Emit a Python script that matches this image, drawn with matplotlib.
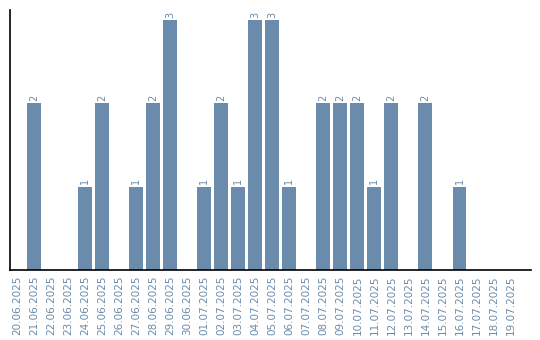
import matplotlib
matplotlib.use("Agg")
import matplotlib.pyplot as plt

dates = ["20.06.2025", "21.06.2025", "22.06.2025", "23.06.2025", "24.06.2025",
         "25.06.2025", "26.06.2025", "27.06.2025", "28.06.2025", "29.06.2025",
         "30.06.2025", "01.07.2025", "02.07.2025", "03.07.2025", "04.07.2025",
         "05.07.2025", "06.07.2025", "07.07.2025", "08.07.2025", "09.07.2025",
         "10.07.2025", "11.07.2025", "12.07.2025", "13.07.2025", "14.07.2025",
         "15.07.2025", "16.07.2025", "17.07.2025", "18.07.2025", "19.07.2025"]
counts = [0, 2, 0, 0, 1, 2, 0, 1, 2, 3,
          0, 1, 2, 1, 3, 3, 1, 0, 2, 2,
          2, 1, 2, 0, 2, 0, 1, 0, 0, 0]

bar_color = "#6a8bab"
text_color = "#6a8bab"

fig = plt.figure(figsize=(5.4, 3.4), dpi=100)
ax = fig.add_axes([10/540, 70/340, 521/540, 260/340])
x = list(range(len(dates)))
bars = ax.bar(x, counts, width=0.82, color=bar_color)
for xi, v in zip(x, counts):
    if v > 0:
        ax.text(xi, v + 0.03, str(v), rotation=90, ha="center", va="bottom",
                fontsize=7, color=text_color)

ax.set_xlim(-0.41, 30.2)
ax.set_ylim(0, 3.12)
ax.set_xticks(x)
ax.set_xticklabels(dates, rotation=90, fontsize=7.5, color=text_color)
ax.tick_params(axis="x", length=0, pad=4)
ax.set_yticks([])
ax.spines["top"].set_visible(False)
ax.spines["right"].set_visible(False)
ax.spines["left"].set_linewidth(1.2)
ax.spines["bottom"].set_linewidth(1.2)

fig.savefig("out.png", dpi=100)
